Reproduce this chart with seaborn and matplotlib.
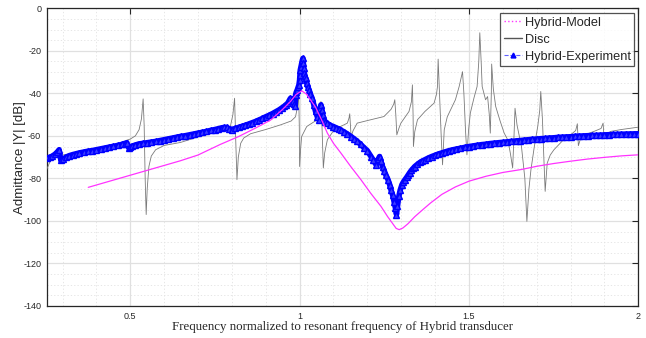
import numpy as np
import pandas as pd
import matplotlib
matplotlib.use("Agg")
import matplotlib.pyplot as plt
import seaborn as sns
from matplotlib.lines import Line2D
from matplotlib.ticker import MultipleLocator

# ---------------- data ----------------
model_x = [0.376, 0.45, 0.55, 0.648, 0.70, 0.766, 0.82, 0.87, 0.914, 0.95, 0.973, 0.99,
           1.006, 1.02, 1.032, 1.047, 1.065, 1.082, 1.10, 1.122, 1.15, 1.181, 1.21, 1.24,
           1.26, 1.27, 1.285, 1.294, 1.305, 1.32, 1.34, 1.365, 1.387, 1.42, 1.46, 1.50,
           1.55, 1.60, 1.655, 1.70, 1.75, 1.80, 1.85, 1.90, 1.95, 2.0]
model_y = [-84.2, -80.8, -76.2, -71.7, -69.0, -64.0, -60.3, -56.3, -52.6, -47.5, -43.8, -40.5,
           -38.8, -40.3, -43.0, -46.5, -52.5, -58.7, -63.5, -68.1, -74.2, -80.6, -87.0, -93.1,
           -98.0, -100.2, -103.5, -104.1, -103.3, -101.3, -98.0, -94.5, -91.5, -87.5, -84.0, -81.3,
           -79.0, -77.2, -75.8, -74.3, -73.0, -71.9, -70.9, -70.1, -69.4, -68.9]

disc_x = [0.253, 0.262, 0.273, 0.285, 0.290, 0.293, 0.30, 0.32, 0.35, 0.40, 0.45, 0.478,
          0.49, 0.50, 0.515, 0.526, 0.533, 0.538, 0.541, 0.544, 0.547, 0.550, 0.555, 0.562,
          0.575, 0.60, 0.648, 0.70, 0.75, 0.78, 0.795, 0.803, 0.808, 0.811, 0.815, 0.819,
          0.826, 0.835, 0.855, 0.90, 0.944, 0.975, 0.988, 0.994, 0.997, 0.999, 1.0, 1.003,
          1.006, 1.021, 1.052, 1.058, 1.063, 1.066, 1.070, 1.074, 1.082, 1.102, 1.141, 1.146,
          1.148, 1.150, 1.152, 1.158, 1.170, 1.20, 1.249, 1.270, 1.278, 1.281, 1.284, 1.287,
          1.293, 1.299, 1.323, 1.330, 1.333, 1.335, 1.336, 1.340, 1.348, 1.37, 1.397, 1.404,
          1.407, 1.409, 1.413, 1.418, 1.422, 1.427, 1.436, 1.446, 1.46, 1.471, 1.477, 1.481,
          1.485, 1.490, 1.494, 1.499, 1.504, 1.515, 1.524, 1.529, 1.532, 1.536, 1.539, 1.549,
          1.555, 1.560, 1.563, 1.566, 1.567, 1.572, 1.579, 1.592, 1.604, 1.615, 1.622, 1.629,
          1.633, 1.636, 1.642, 1.655, 1.665, 1.671, 1.677, 1.683, 1.693, 1.703, 1.709, 1.712,
          1.717, 1.721, 1.725, 1.731, 1.740, 1.751, 1.775, 1.800, 1.815, 1.820, 1.823, 1.830,
          1.850, 1.869, 1.890, 1.896, 1.899, 1.905, 1.918, 1.95, 2.0]
disc_y = [-75.9, -72.5, -69.7, -67.0, -66.2, -68.0, -69.0, -68.5, -69.3, -67.8, -66.2, -63.4,
          -62.0, -61.5, -60.0, -57.1, -52.0, -42.6, -55.0, -80.0, -97.0, -85.0, -74.4, -69.5,
          -66.5, -64.5, -63.1, -60.5, -58.5, -57.5, -56.0, -50.0, -42.3, -60.0, -80.6, -70.0,
          -63.5, -61.0, -59.0, -57.0, -54.8, -53.0, -51.0, -46.0, -38.5, -55.0, -74.4, -66.0,
          -60.3, -55.6, -52.4, -50.0, -43.8, -55.0, -75.1, -68.0, -61.8, -57.1, -54.0, -51.5,
          -49.6, -55.0, -60.3, -57.5, -54.0, -52.8, -50.9, -47.5, -45.0, -43.0, -50.0, -59.5,
          -56.5, -54.0, -48.5, -44.0, -36.0, -50.0, -65.0, -58.0, -52.4, -48.5, -44.6, -40.5,
          -36.8, -23.9, -40.0, -60.0, -73.6, -57.1, -51.0, -47.7, -43.0, -36.8, -32.5, -29.8,
          -40.0, -58.0, -68.9, -57.0, -49.3, -42.0, -36.8, -25.0, -11.5, -25.0, -36.8, -43.0,
          -41.5, -50.0, -58.7, -40.0, -26.2, -38.0, -46.2, -53.0, -58.7, -62.0, -68.0, -75.1,
          -60.0, -47.0, -55.0, -65.0, -80.0, -100.2, -85.0, -75.9, -65.0, -55.6, -48.0, -39.1,
          -52.4, -70.0, -86.1, -72.8, -69.0, -66.5, -62.5, -59.5, -57.5, -54.3, -64.6, -61.0,
          -59.0, -57.9, -56.5, -54.0, -61.0, -59.5, -57.9, -57.0, -55.9]

exp_x = [0.253, 0.262, 0.27, 0.278, 0.285, 0.29, 0.295, 0.302, 0.31, 0.32, 0.33, 0.34, 0.35,
         0.3625, 0.375, 0.3875, 0.40, 0.4125, 0.425, 0.4375, 0.45, 0.4625, 0.475, 0.483, 0.490,
         0.495, 0.50, 0.505, 0.515, 0.525, 0.5375, 0.55, 0.5625, 0.575, 0.5875, 0.60, 0.6125,
         0.625, 0.6375, 0.65, 0.6625, 0.675, 0.6875, 0.70, 0.7125, 0.725, 0.7375, 0.75, 0.76,
         0.77, 0.778, 0.785, 0.792, 0.80, 0.81, 0.82, 0.83, 0.84, 0.85, 0.86, 0.87, 0.88,
         0.89, 0.90, 0.91, 0.92, 0.93, 0.94, 0.948, 0.955, 0.96, 0.965, 0.969, 0.973, 0.977,
         0.98, 0.984, 0.987, 0.988, 0.990, 0.993, 0.996, 0.998, 1.000, 1.001, 1.002, 1.004,
         1.006, 1.008, 1.010, 1.011, 1.012, 1.014, 1.016, 1.018, 1.021, 1.024, 1.028, 1.032,
         1.037, 1.042, 1.047, 1.052, 1.057, 1.060, 1.063, 1.066, 1.068, 1.071, 1.076, 1.081,
         1.09, 1.10, 1.108, 1.115, 1.122, 1.13, 1.14, 1.152, 1.16, 1.17, 1.18, 1.19, 1.20,
         1.211, 1.218, 1.226, 1.232, 1.236, 1.240, 1.245, 1.250, 1.255, 1.261, 1.266, 1.270,
         1.275, 1.279, 1.283, 1.286, 1.289, 1.293, 1.297, 1.302, 1.306, 1.311, 1.316, 1.32,
         1.325, 1.33, 1.335, 1.340, 1.3475, 1.355, 1.3625, 1.37, 1.38, 1.39, 1.40, 1.41,
         1.42, 1.43, 1.44, 1.45, 1.4625, 1.475, 1.4875, 1.50, 1.5125, 1.525, 1.5375, 1.55,
         1.5625, 1.575, 1.5875, 1.60, 1.6125, 1.625, 1.6375, 1.65, 1.6625, 1.675, 1.6875,
         1.70, 1.7125, 1.725, 1.7375, 1.75, 1.7625, 1.775, 1.7875, 1.80, 1.8125, 1.825,
         1.8375, 1.85, 1.8625, 1.875, 1.8875, 1.90, 1.9125, 1.925, 1.9375, 1.95, 1.9625,
         1.975, 1.9875, 2.0]
exp_y = [-70.5, -70.0, -69.5, -68.6, -67.5, -66.5, -71.5, -71.0, -70.0, -69.3, -68.8, -68.4, -68.0,
         -67.6, -67.2, -66.9, -66.5, -66.1, -65.7, -65.3, -64.9, -64.5, -64.0, -63.6, -63.2,
         -65.5, -65.3, -64.8, -64.3, -63.8, -63.5, -63.2, -62.9, -62.6, -62.2, -61.8, -61.4,
         -61.0, -60.6, -60.2, -59.9, -59.5, -59.1, -58.7, -58.3, -57.9, -57.4, -57.0, -56.6,
         -56.2, -56.0, -56.0, -56.6, -57.0, -56.5, -56.0, -55.5, -55.0, -54.4, -53.8, -53.2, -52.5,
         -51.8, -51.0, -50.3, -49.5, -48.6, -47.7, -46.8, -46.0, -45.3, -44.6, -43.5, -42.3, -42.8,
         -43.5, -44.8, -45.9, -40.7, -39.5, -38.4, -37.0, -36.0, -33.7, -31.3, -29.0, -27.5,
         -25.8, -24.5, -23.5, -25.8, -28.0, -30.5, -32.0, -32.9, -35.2, -36.8, -38.4, -40.4,
         -42.3, -45.4, -48.5, -50.9, -52.4, -47.0, -45.4, -47.7, -50.0, -52.4, -53.3, -54.0,
         -55.0, -55.6, -56.2, -56.7, -57.3, -58.0, -59.0, -60.3, -61.3, -62.5, -64.0, -65.5, -67.0,
         -69.7, -71.5, -73.6, -71.0, -69.7, -72.0, -74.5, -76.5, -78.5, -80.6, -83.0, -85.5,
         -88.0, -91.0, -94.0, -97.0, -93.0, -88.4, -85.5, -83.0, -81.8, -80.6, -79.5, -78.5,
         -77.3, -76.2, -75.3, -74.4, -73.4, -72.5, -71.8, -71.2, -70.4, -69.7, -69.1, -68.5,
         -68.0, -67.5, -67.0, -66.6, -66.2, -65.8, -65.4, -65.0, -64.7, -64.4, -64.1, -63.9,
         -63.6, -63.4, -63.2, -63.0, -62.8, -62.6, -62.4, -62.2, -62.0, -61.8, -61.6,
         -61.5, -61.3, -61.2, -61.0, -60.9, -60.7, -60.6, -60.5, -60.4, -60.2, -60.1,
         -60.0, -59.9, -59.8, -59.7, -59.6, -59.5, -59.4, -59.3, -59.25, -59.2, -59.15,
         -59.1, -59.05, -59.0]

x_ticks = [0.5, 1, 1.5, 2]
x_tick_labels = ["0.5", "1", "1.5", "2"]
y_ticks = [0, -20, -40, -60, -80, -100, -120, -140]
y_tick_labels = ["0", "-20", "-40", "-60", "-80", "-100", "-120", "-140"]

# ---------------- plotting ----------------
sns.set_style("white")
plt.rcParams["font.family"] = ["Liberation Sans", "DejaVu Sans"]
plt.rcParams["axes.unicode_minus"] = False

fig = plt.figure(figsize=(6.46, 3.38), dpi=100)
ax = fig.add_axes([0.0723, 0.0947, 0.9158, 0.8807])

df_model = pd.DataFrame({"x": model_x, "y": model_y})
df_disc = pd.DataFrame({"x": disc_x, "y": disc_y})
df_exp = pd.DataFrame({"x": exp_x, "y": exp_y})

sns.lineplot(data=df_disc, x="x", y="y", ax=ax, color="#7a7a7a", linewidth=0.6,
             estimator=None, sort=False, zorder=3)
sns.lineplot(data=df_exp, x="x", y="y", ax=ax, color="#0000ff", linewidth=4.0,
             estimator=None, sort=False, marker="^", markersize=5,
             markerfacecolor="#3c3cff", markeredgecolor="#0000ff", markeredgewidth=1.0,
             zorder=4)
sns.lineplot(data=df_model, x="x", y="y", ax=ax, color="#ff33ff", linewidth=0.9,
             estimator=None, sort=False, zorder=5)

ax.set_xlim(0.2533, 2.0)
ax.set_ylim(-140, 0)
ax.set_xticks(x_ticks)
ax.set_xticklabels(x_tick_labels)
ax.set_yticks(y_ticks)
ax.set_yticklabels(y_tick_labels)
ax.xaxis.set_minor_locator(MultipleLocator(0.1))
ax.yaxis.set_minor_locator(MultipleLocator(5))

ax.grid(which="major", color="#e0e0e0", linewidth=0.9, linestyle="-")
ax.grid(which="minor", color="#e2e2e2", linewidth=0.6, linestyle=(0, (1.5, 2.5)))
ax.set_axisbelow(True)

ax.tick_params(which="major", direction="in", length=4, width=0.8, top=True, right=True,
               labelsize=6.5, colors="#262626", pad=4)
ax.tick_params(which="minor", length=0, top=True, right=True)
for s in ax.spines.values():
    s.set_color("#262626")
    s.set_linewidth(0.9)

ax.set_xlabel("Frequency normalized to resonant frequency of Hybrid transducer",
              family=["Liberation Serif", "DejaVu Serif"], fontsize=9.3, color="#262626")
ax.set_ylabel("Admittance |Y| [dB]", fontsize=9.5, color="#262626")
ax.xaxis.set_label_coords(0.5, -0.05)
ax.yaxis.set_label_coords(-0.035, 0.5)

handles = [
    Line2D([], [], color="#ff33ff", linestyle=":", linewidth=1.0),
    Line2D([], [], color="#555555", linestyle="-", linewidth=1.0),
    Line2D([], [], color="#6060ff", linestyle="--", linewidth=0.8, marker="^",
           markersize=3.5, markerfacecolor="#0000ff", markeredgecolor="#0000ff"),
]
leg = ax.legend(handles, ["Hybrid-Model", "Disc", "Hybrid-Experiment"], loc="upper right",
                bbox_to_anchor=(0.9935, 0.984), fontsize=9.2, frameon=True, fancybox=False,
                handlelength=1.4, handletextpad=0.2, borderpad=0.3, labelspacing=0.38,
                borderaxespad=0.0)
leg.get_frame().set_edgecolor("#262626")
leg.get_frame().set_linewidth(0.9)

fig.savefig("out.png", dpi=100)
